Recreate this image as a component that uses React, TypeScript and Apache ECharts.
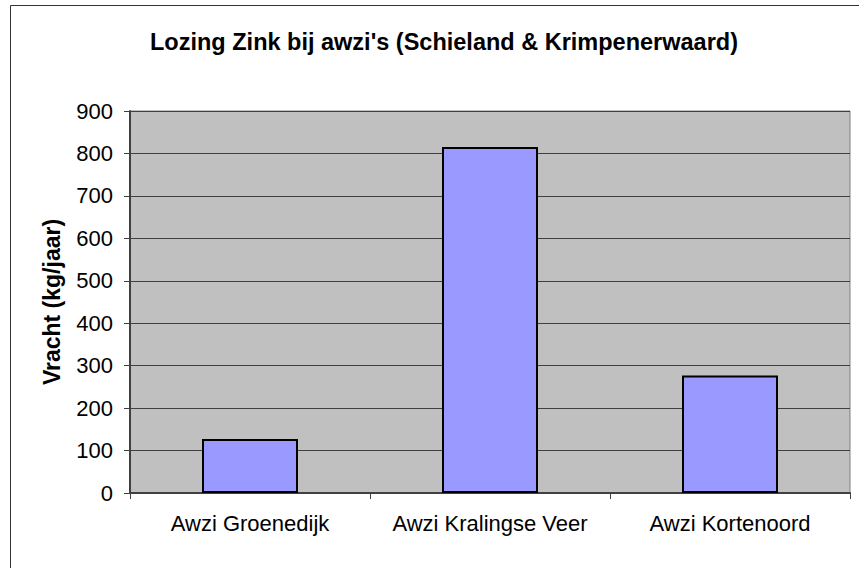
import React, { useEffect, useRef } from "react";
import * as echarts from "echarts";

const categories = ["Awzi Groenedijk", "Awzi Kralingse Veer", "Awzi Kortenoord"];
const values = [127, 815, 277];
const titleText = "Lozing Zink bij awzi's (Schieland & Krimpenerwaard)";
const yAxisName = "Vracht (kg/jaar)";

const FONT = "'Liberation Sans', Arial, sans-serif";

export default function App() {
  const ref = useRef<HTMLDivElement>(null);
  useEffect(() => {
    if (!ref.current) return;
    const chart = echarts.init(ref.current, undefined, { renderer: "svg" });
    chart.setOption({
      animation: false,
      backgroundColor: "#ffffff",
      title: {
        text: titleText,
        left: 439,
        top: 25,
        textAlign: "center",
        textStyle: { fontFamily: FONT, fontSize: 23.5, fontWeight: "bold", color: "#000" },
      },
      graphic: [
        {
          type: "rect",
          shape: { x: 10.5, y: 5.5, width: 1000, height: 1000 },
          style: { fill: "none", stroke: "#333", lineWidth: 1 },
          silent: true,
          z: -1,
        },
      ],
      grid: {
        left: 130,
        top: 111,
        right: 9,
        bottom: 75,
        show: true,
        backgroundColor: "#c0c0c0",
        borderColor: "#808080",
        borderWidth: 1,
      },
      xAxis: {
        type: "category",
        data: categories,
        axisLine: { show: true, lineStyle: { color: "#404040", width: 2 } },
        axisTick: { show: true, alignWithLabel: false, length: 6, lineStyle: { color: "#404040", width: 1 } },
        axisLabel: { fontFamily: FONT, fontSize: 22, color: "#000", margin: 19, interval: 0 },
        splitLine: { show: false },
      },
      yAxis: {
        type: "value",
        min: 0,
        max: 900,
        interval: 100,
        name: yAxisName,
        nameLocation: "middle",
        nameRotate: 90,
        nameGap: 67,
        nameTextStyle: { fontFamily: FONT, fontSize: 23, fontWeight: "bold", color: "#000" },
        axisLine: { show: true, lineStyle: { color: "#404040", width: 2 } },
        axisTick: { show: true, length: 6, lineStyle: { color: "#404040", width: 1 } },
        axisLabel: { fontFamily: FONT, fontSize: 22, color: "#000", margin: 17 },
        splitLine: { show: true, lineStyle: { color: "#404040", width: 1 } },
      },
      series: [
        {
          type: "bar",
          data: values,
          barWidth: "40%",
          itemStyle: { color: "#9999ff", borderColor: "#000", borderWidth: 2 },
        },
      ],
    });
    return () => chart.dispose();
  }, []);
  return <div ref={ref} style={{ width: 859, height: 568, position: "absolute", left: 0, top: 0 }} />;
}
